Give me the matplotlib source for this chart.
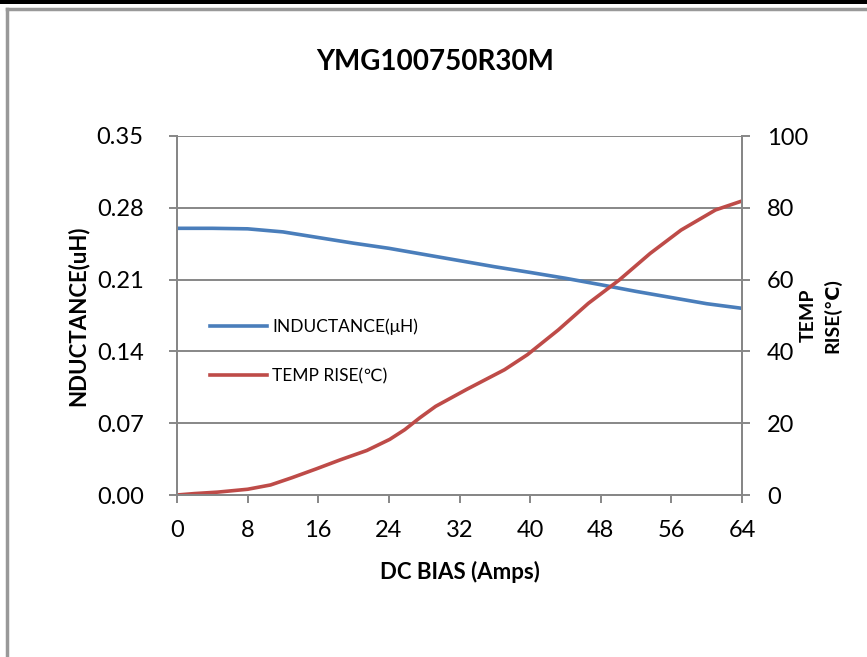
import numpy as np
import matplotlib.pyplot as plt
from matplotlib.lines import Line2D
from matplotlib.patches import Rectangle

plt.rcParams.update({'font.family': ['Lato', 'DejaVu Sans']})

# datos
bias = [0, 4, 8, 12, 16, 20, 24, 28, 32, 36, 40, 44, 48, 52, 56, 60, 64]
inductance = [0.260, 0.260, 0.2595, 0.2565, 0.251, 0.2455, 0.2405, 0.2345,
              0.2285, 0.2225, 0.217, 0.2113, 0.205, 0.1985, 0.1925, 0.1865, 0.182]
bias_t = [0, 2, 4.6, 8, 10.6, 13, 15.8, 18.5, 21.5, 24.1, 25.8, 27.5, 29.3,
          32.8, 37.1, 39.7, 43.2, 46.6, 50.1, 53.6, 57.1, 61, 64]
temp_rise = [0, 0.4, 0.8, 1.6, 2.8, 4.8, 7.3, 9.8, 12.4, 15.5, 18.2, 21.5, 24.7,
             29.4, 34.9, 39.1, 46.0, 53.4, 59.9, 67.3, 73.8, 79.4, 81.9]

x_ticks = np.arange(0, 65, 8)
l_ticks = [0.00, 0.07, 0.14, 0.21, 0.28, 0.35]
r_ticks = [0, 20, 40, 60, 80, 100]

gray = '#878787'
blue = '#4a7ebb'
red = '#be4b48'
fs = 17

fig = plt.figure(figsize=(8.67, 6.57), dpi=100)
ax = fig.add_axes([177/867, 1-495/657, 565/867, 359/657])
ax2 = ax.twinx()

ax.plot(bias, inductance, color=blue, lw=2.6, solid_capstyle='round',
        solid_joinstyle='round')
ax2.plot(bias_t, temp_rise, color=red, lw=2.6, solid_capstyle='round',
         solid_joinstyle='round')

ax.set_xlim(0, 64)
ax.set_ylim(0, 0.35)
ax2.set_ylim(0, 100)
ax.set_xticks(x_ticks)
ax.set_yticks(l_ticks)
ax.set_yticklabels(['%.2f' % v for v in l_ticks])
ax2.set_yticks(r_ticks)

ax.grid(axis='y', color=gray, lw=1.4)
ax.set_axisbelow(True)
for a in (ax, ax2):
    for s in a.spines.values():
        s.set_color(gray)
        s.set_linewidth(1.4)
    a.spines['top'].set_visible(False)
    a.tick_params(colors=gray, labelcolor='black', labelsize=fs, width=1.4, length=6)
ax.tick_params(axis='x', pad=12)
ax.tick_params(axis='y', pad=18)
ax2.tick_params(axis='y', pad=12)

ax.set_xlabel('DC BIAS (Amps)', fontsize=16, fontweight='bold', labelpad=14)
ax.set_ylabel('NDUCTANCE(uH)', fontsize=16, fontweight='bold', labelpad=6)
ax2.set_ylabel('TEMP\nRISE(\u2103)', fontsize=14, fontweight='bold',
               labelpad=-6, linespacing=1.4)
fig.text(435/867, 1-62/657, 'YMG100750R30M', fontsize=20, fontweight='bold',
         ha='center', va='center')

handles = [Line2D([], [], color=blue, lw=2.6), Line2D([], [], color=red, lw=2.6)]
ax.legend(handles, ['INDUCTANCE(\u03bcH)', 'TEMP RISE(\u2103)'],
          loc='upper left', bbox_to_anchor=(0.03, 0.535), frameon=False,
          fontsize=12.5, handlelength=3.3, handletextpad=0.3, labelspacing=1.9)

# marco de la figura
fig.patches.append(Rectangle((0, 1-4/657), 1, 4/657, transform=fig.transFigure,
                             color='black', lw=0))
fig.lines.append(Line2D([7/867, 1], [1-9/657, 1-9/657], transform=fig.transFigure,
                        color='#999999', lw=2.5))
fig.lines.append(Line2D([7/867, 7/867], [0, 1-9/657], transform=fig.transFigure,
                        color='#999999', lw=2.5))

fig.savefig('out.png', dpi=100)
